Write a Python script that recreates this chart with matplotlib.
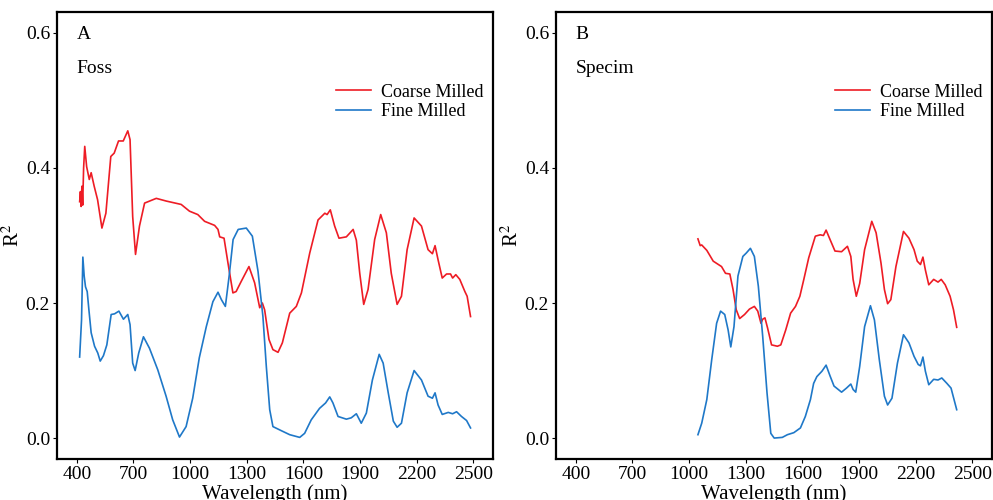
import matplotlib
matplotlib.use("Agg")
import matplotlib.pyplot as plt

plt.rcParams["font.family"] = ["Liberation Serif", "DejaVu Serif"]
plt.rcParams["mathtext.fontset"] = "stix"

RED = "#EE1C25"
BLUE = "#1F78C8"

# Panel A (Foss)
foss_coarse_nm = [415, 419, 423, 427, 431, 436, 442, 452, 466, 476, 492, 510, 533, 554, 580,
                  598, 621, 646, 670, 682, 696, 711, 732, 759, 821, 874, 953, 997, 1041, 1077,
                  1130, 1148, 1157, 1180, 1201, 1227, 1244, 1271, 1312, 1342, 1369, 1383, 1395,
                  1418, 1439, 1466, 1489, 1528, 1563, 1590, 1634, 1678, 1714, 1726, 1743, 1766,
                  1789, 1828, 1864, 1881, 1899, 1920, 1943, 1978, 2010, 2040, 2066, 2097, 2120,
                  2150, 2187, 2226, 2261, 2284, 2298, 2314, 2336, 2359, 2380, 2391, 2408, 2429,
                  2456, 2468, 2486]
foss_coarse_r2 = [0.350, 0.365, 0.343, 0.373, 0.345, 0.400, 0.432, 0.402, 0.383, 0.393, 0.373,
                  0.353, 0.311, 0.333, 0.417, 0.422, 0.440, 0.440, 0.455, 0.442, 0.328, 0.272,
                  0.314, 0.348, 0.355, 0.351, 0.346, 0.336, 0.331, 0.321, 0.315, 0.309, 0.298,
                  0.296, 0.259, 0.215, 0.217, 0.232, 0.254, 0.230, 0.193, 0.200, 0.190, 0.146,
                  0.131, 0.127, 0.141, 0.185, 0.195, 0.215, 0.274, 0.323, 0.333, 0.331, 0.338,
                  0.314, 0.296, 0.298, 0.309, 0.293, 0.244, 0.198, 0.220, 0.294, 0.331, 0.304,
                  0.244, 0.198, 0.210, 0.279, 0.326, 0.314, 0.279, 0.273, 0.285, 0.264, 0.237,
                  0.243, 0.243, 0.237, 0.242, 0.235, 0.217, 0.210, 0.180]

foss_fine_nm = [415, 425, 432, 439, 446, 455, 464, 476, 494, 511, 524, 541, 559, 582, 600, 623,
                647, 670, 682, 696, 709, 728, 753, 785, 829, 873, 908, 944, 979, 1014, 1049,
                1086, 1121, 1148, 1166, 1187, 1207, 1228, 1255, 1298, 1330, 1360, 1386, 1404,
                1422, 1439, 1483, 1528, 1581, 1607, 1642, 1686, 1718, 1740, 1757, 1784, 1828,
                1854, 1881, 1907, 1934, 1966, 2002, 2023, 2050, 2077, 2097, 2120, 2150, 2187,
                2226, 2261, 2284, 2298, 2314, 2336, 2368, 2391, 2412, 2438, 2465, 2486]
foss_fine_r2 = [0.120, 0.175, 0.268, 0.240, 0.224, 0.217, 0.190, 0.156, 0.136, 0.126, 0.114,
                0.122, 0.138, 0.183, 0.184, 0.188, 0.176, 0.183, 0.168, 0.111, 0.100, 0.126,
                0.150, 0.133, 0.101, 0.062, 0.027, 0.0015, 0.017, 0.059, 0.119, 0.165, 0.202,
                0.216, 0.205, 0.195, 0.240, 0.294, 0.309, 0.311, 0.299, 0.247, 0.180, 0.106,
                0.042, 0.017, 0.011, 0.005, 0.001, 0.007, 0.027, 0.044, 0.052, 0.061, 0.052,
                0.032, 0.028, 0.030, 0.036, 0.022, 0.037, 0.086, 0.124, 0.111, 0.067, 0.025,
                0.016, 0.022, 0.067, 0.100, 0.086, 0.062, 0.059, 0.067, 0.049, 0.035, 0.038,
                0.036, 0.039, 0.032, 0.026, 0.015]

# Panel B (Specim)
specim_coarse_nm = [1047, 1059, 1067, 1094, 1128, 1172, 1193, 1216, 1233, 1250, 1268, 1294,
                    1320, 1346, 1364, 1381, 1390, 1402, 1416, 1437, 1468, 1486, 1512, 1538,
                    1564, 1587, 1608, 1634, 1669, 1695, 1712, 1726, 1747, 1773, 1808, 1839,
                    1857, 1869, 1886, 1904, 1930, 1968, 1991, 2017, 2035, 2052, 2069, 2096,
                    2136, 2165, 2192, 2209, 2226, 2239, 2252, 2270, 2296, 2319, 2336, 2357,
                    2383, 2401, 2418]
specim_coarse_r2 = [0.295, 0.285, 0.286, 0.278, 0.262, 0.254, 0.244, 0.243, 0.220, 0.190,
                    0.177, 0.183, 0.191, 0.195, 0.188, 0.170, 0.176, 0.178, 0.163, 0.138,
                    0.136, 0.138, 0.160, 0.185, 0.195, 0.210, 0.235, 0.267, 0.299, 0.301,
                    0.300, 0.308, 0.294, 0.277, 0.276, 0.284, 0.269, 0.235, 0.210, 0.229,
                    0.279, 0.321, 0.304, 0.259, 0.220, 0.199, 0.205, 0.254, 0.306, 0.296,
                    0.279, 0.262, 0.257, 0.268, 0.249, 0.227, 0.235, 0.231, 0.235, 0.227,
                    0.210, 0.190, 0.164]

specim_fine_nm = [1047, 1067, 1094, 1120, 1146, 1167, 1189, 1207, 1221, 1238, 1259, 1285,
                  1303, 1325, 1346, 1367, 1390, 1413, 1433, 1451, 1494, 1521, 1555, 1590,
                  1616, 1643, 1660, 1677, 1704, 1726, 1747, 1768, 1808, 1834, 1857, 1869,
                  1883, 1904, 1930, 1961, 1982, 2008, 2035, 2052, 2075, 2104, 2136, 2165,
                  2192, 2214, 2226, 2239, 2252, 2270, 2296, 2319, 2339, 2366, 2388, 2418]
specim_fine_r2 = [0.005, 0.022, 0.057, 0.116, 0.170, 0.188, 0.183, 0.160, 0.135, 0.165,
                  0.240, 0.269, 0.274, 0.281, 0.269, 0.225, 0.151, 0.067, 0.007, 0.000,
                  0.001, 0.005, 0.008, 0.015, 0.032, 0.057, 0.081, 0.091, 0.099, 0.108,
                  0.092, 0.077, 0.068, 0.074, 0.080, 0.072, 0.068, 0.106, 0.165, 0.196,
                  0.175, 0.116, 0.062, 0.049, 0.059, 0.111, 0.153, 0.141, 0.121, 0.109,
                  0.107, 0.120, 0.099, 0.079, 0.087, 0.086, 0.089, 0.081, 0.074, 0.042]

xticks = [400, 700, 1000, 1300, 1600, 1900, 2200, 2500]
yticks = [0.0, 0.2, 0.4, 0.6]

panels = [
    ("A", "Foss", foss_coarse_nm, foss_coarse_r2, foss_fine_nm, foss_fine_r2),
    ("B", "Specim", specim_coarse_nm, specim_coarse_r2, specim_fine_nm, specim_fine_r2),
]

fig = plt.figure(figsize=(9.93, 5.0), dpi=100)
lefts = [57 / 993, 556 / 993]

for left, (tag, name, cx, cy, fx, fy) in zip(lefts, panels):
    ax = fig.add_axes([left, 41 / 500, 436 / 993, 447 / 500])
    ax.plot(cx, cy, color=RED, lw=1.2, label="Coarse Milled")
    ax.plot(fx, fy, color=BLUE, lw=1.2, label="Fine Milled")
    ax.set_xlim(295, 2605)
    ax.set_ylim(-0.031, 0.631)
    ax.set_xticks(xticks)
    ax.set_yticks(yticks)
    ax.set_yticklabels([f"{v:.1f}" for v in yticks])
    ax.tick_params(labelsize=14, length=3, width=0.8, pad=2, colors="black")
    for s in ax.spines.values():
        s.set_linewidth(1.6)
    ax.set_xlabel("Wavelength (nm)", fontsize=15, labelpad=1)
    ax.set_ylabel("R$^2$", fontsize=15, labelpad=1)
    ax.text(400, 0.598, tag, fontsize=14, va="center", ha="left")
    ax.text(400, 0.548, name, fontsize=14, va="center", ha="left")
    ax.legend(loc="upper right", bbox_to_anchor=(1.0, 0.86), frameon=False, fontsize=13,
              handlelength=1.9, handletextpad=0.6, labelspacing=0.15, borderaxespad=0.1)

fig.savefig("out.png", dpi=100)
